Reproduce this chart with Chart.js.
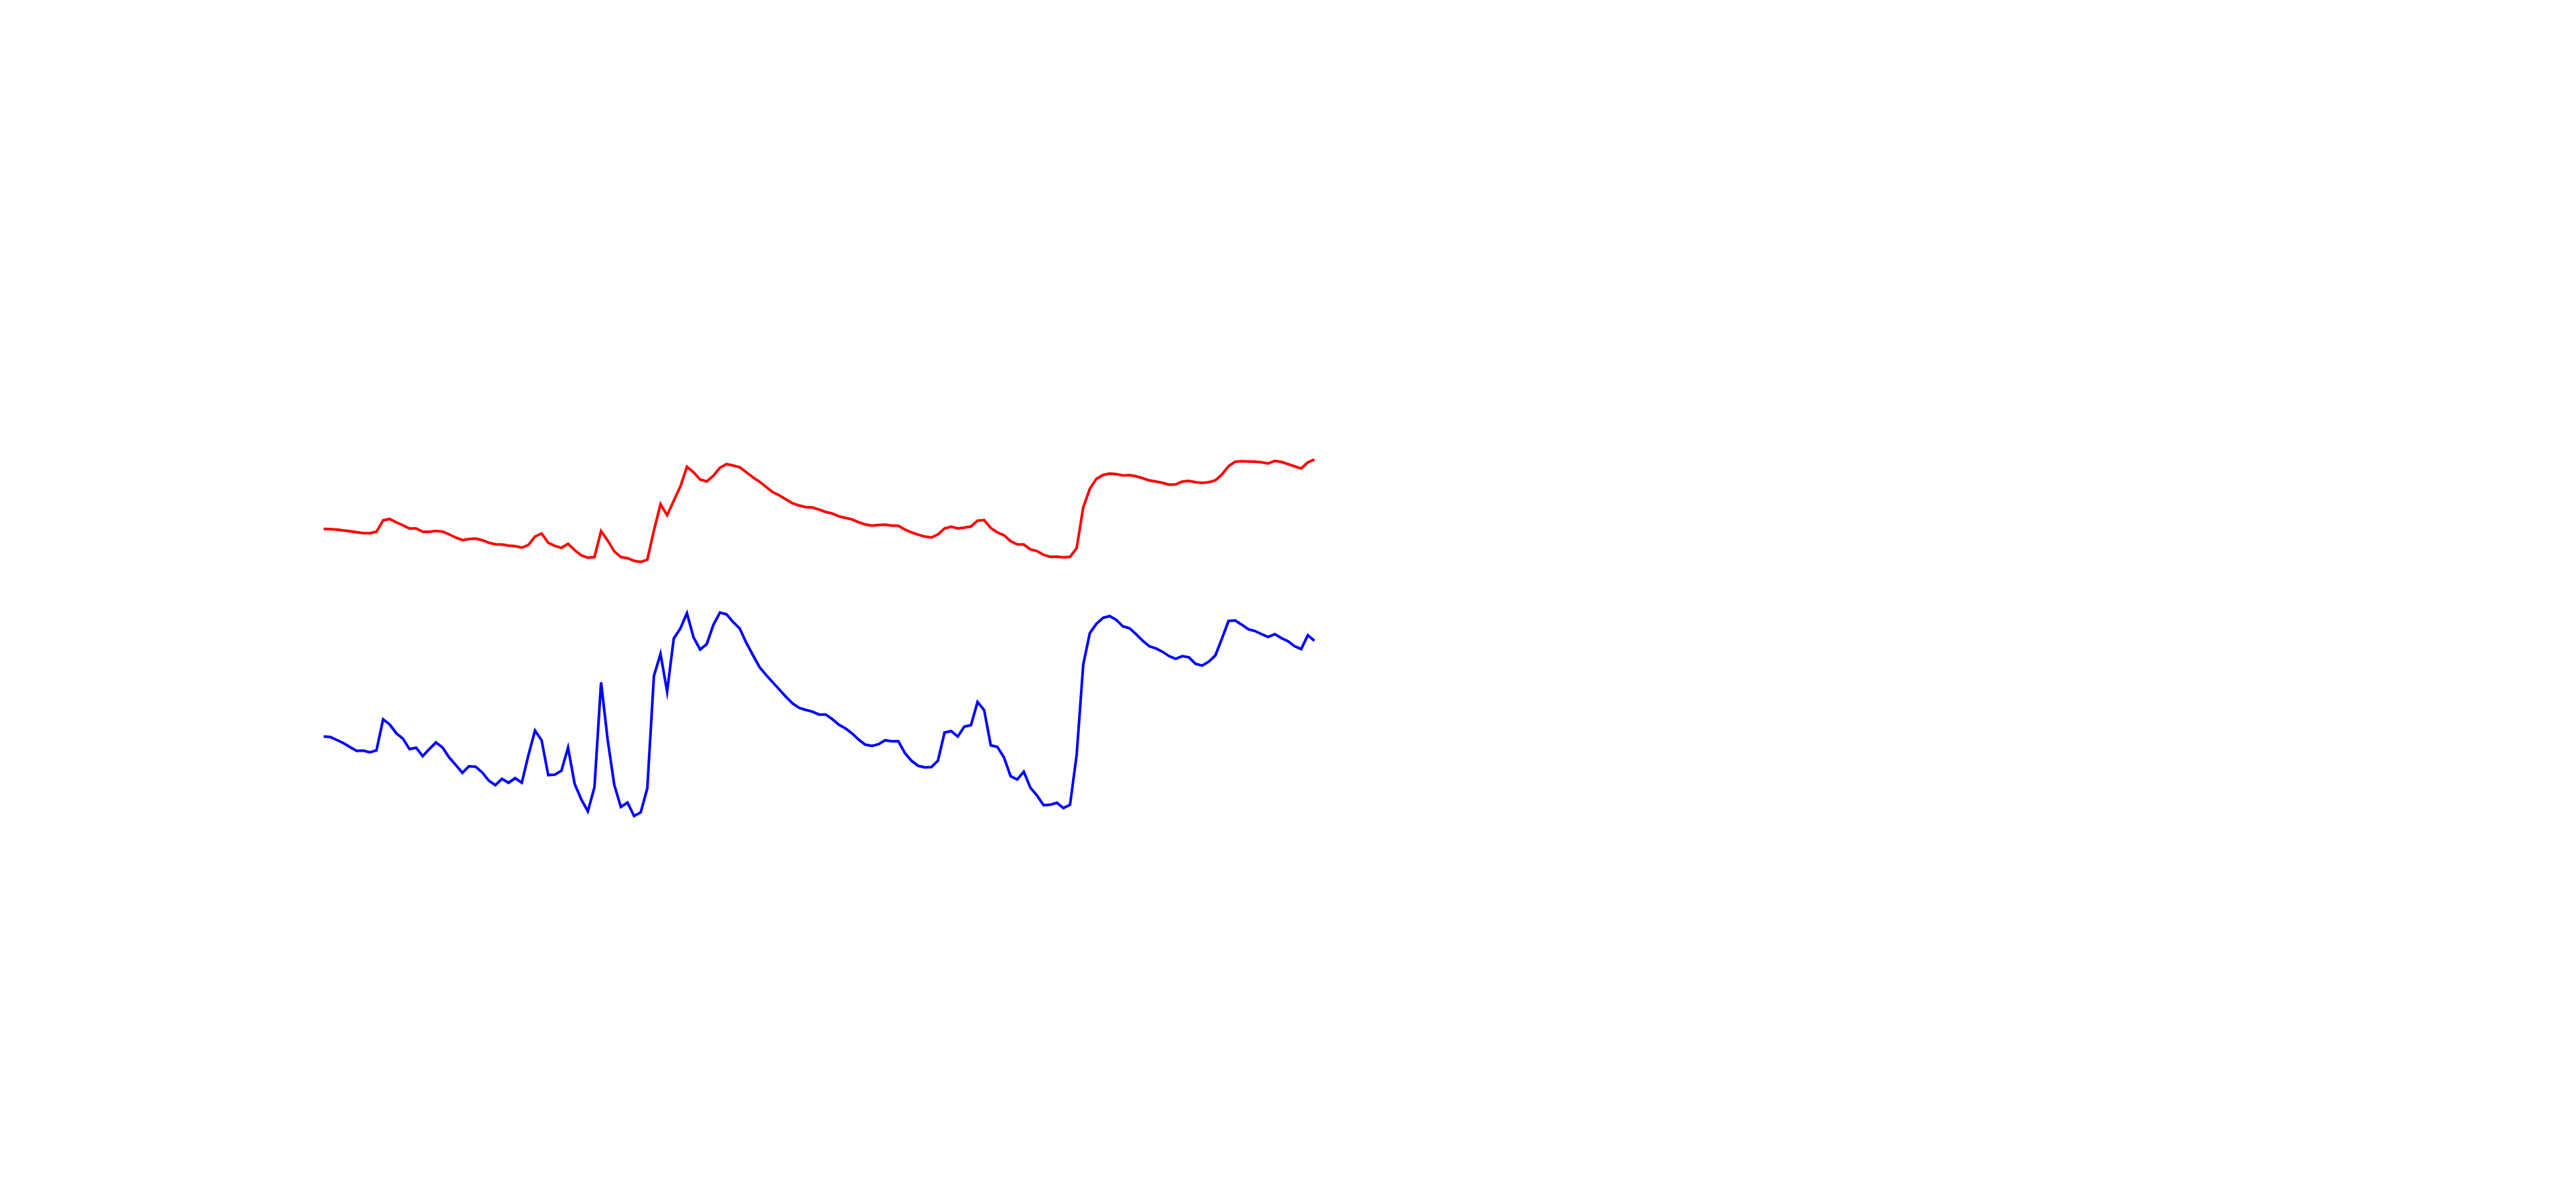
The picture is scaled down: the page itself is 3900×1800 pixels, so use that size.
<!DOCTYPE html>
<html>
<head>
<meta charset="utf-8">
<script src="https://cdn.jsdelivr.net/npm/chart.js@4/dist/chart.umd.min.js"></script>
<style>
  html, body { margin: 0; padding: 0; background: #ffffff; }
  #wrap { width: 3900px; height: 1800px; }
</style>
</head>
<body>
<div id="wrap"><canvas id="c" width="3900" height="1800"></canvas></div>
<script>
const redSeries = [
  49.93, 49.9, 49.83, 49.7, 49.57, 49.43, 49.3, 49.27, 49.5, 51.23,
  51.43, 50.93, 50.47, 50.0, 50.0, 49.5, 49.5, 49.63, 49.53, 49.1,
  48.63, 48.23, 48.4, 48.47, 48.23, 47.83, 47.6, 47.57, 47.4, 47.33,
  47.1, 47.5, 48.77, 49.23, 47.83, 47.37, 47.07, 47.67, 46.73, 45.93,
  45.57, 45.67, 49.6, 48.17, 46.53, 45.67, 45.5, 45.1, 44.93, 45.27,
  49.67, 53.67, 52.0, 54.2, 56.33, 59.33, 58.5, 57.4, 57.13, 57.97,
  59.2, 59.73, 59.53, 59.27, 58.5, 57.73, 57.07, 56.27, 55.5, 55.0,
  54.4, 53.8, 53.47, 53.23, 53.17, 52.87, 52.5, 52.27, 51.83, 51.6,
  51.37, 50.93, 50.6, 50.43, 50.53, 50.57, 50.43, 50.43, 49.83, 49.4,
  49.07, 48.77, 48.63, 49.1, 50.0, 50.27, 50.0, 50.13, 50.3, 51.17,
  51.27, 50.07, 49.4, 48.97, 48.07, 47.6, 47.57, 46.83, 46.57, 46.0,
  45.7, 45.73, 45.63, 45.7, 47.0, 53.17, 56.0, 57.5, 58.1, 58.3,
  58.23, 58.03, 58.07, 57.9, 57.6, 57.27, 57.1, 56.9, 56.63, 56.67,
  57.1, 57.2, 57.0, 56.9, 57.0, 57.27, 58.17, 59.43, 60.1, 60.17,
  60.13, 60.1, 60.03, 59.83, 60.23, 60.07, 59.73, 59.4, 59.07, 60.0,
  60.43
];

const blueSeries = [
  18.5, 18.43, 17.97, 17.5, 16.9, 16.33, 16.37, 16.1, 16.4, 21.1,
  20.33, 19.0, 18.17, 16.6, 16.8, 15.53, 16.6, 17.6, 16.83, 15.33,
  14.2, 13.0, 14.0, 13.93, 13.07, 11.83, 11.13, 12.1, 11.5, 12.2,
  11.5, 15.67, 19.4, 17.93, 12.67, 12.73, 13.33, 16.83, 11.33, 9.0,
  7.17, 10.83, 26.7, 18.0, 11.17, 7.83, 8.5, 6.47, 7.0, 10.67,
  27.67, 31.0, 25.3, 33.33, 34.85, 37.17, 33.5, 31.67, 32.5, 35.4,
  37.27, 37.0, 35.83, 34.83, 32.67, 30.8, 29.0, 27.8, 26.7, 25.6,
  24.5, 23.5, 22.83, 22.53, 22.27, 21.83, 21.83, 21.13, 20.3, 19.73,
  18.97, 18.03, 17.27, 17.07, 17.33, 17.93, 17.77, 17.8, 16.0, 14.83,
  14.07, 13.83, 13.87, 14.83, 19.1, 19.33, 18.5, 20.0, 20.23, 23.73,
  22.5, 17.17, 16.93, 15.33, 12.5, 12.0, 13.17, 10.75, 9.57, 8.1,
  8.17, 8.47, 7.67, 8.17, 15.67, 29.4, 34.17, 35.57, 36.47, 36.73,
  36.17, 35.17, 34.9, 34.0, 33.0, 32.17, 31.83, 31.33, 30.67, 30.27,
  30.67, 30.5, 29.5, 29.23, 29.83, 30.77, 33.33, 36.0, 36.07, 35.43,
  34.73, 34.47, 34.0, 33.57, 34.0, 33.4, 32.93, 32.17, 31.73, 33.83,
  33.0
];

const categories = redSeries.map((_, i) => i);

const yMin = 0;
const yMax = 70;

new Chart(document.getElementById('c'), {
  type: 'line',
  data: {
    labels: categories,
    datasets: [
      {
        label: 'red',
        data: redSeries,
        borderColor: '#ff0000',
        borderWidth: 4,
        pointRadius: 0,
        tension: 0,
        fill: false,
        clip: false
      },
      {
        label: 'blue',
        data: blueSeries,
        borderColor: '#0000ff',
        borderWidth: 4,
        pointRadius: 0,
        tension: 0,
        fill: false,
        clip: false
      }
    ]
  },
  options: {
    responsive: false,
    animation: false,
    events: [],
    layout: { padding: { left: 490, right: 1910, top: 600, bottom: 500 } },
    plugins: {
      legend: { display: false },
      title: { display: false },
      tooltip: { enabled: false }
    },
    scales: {
      x: { display: false, offset: false },
      y: { display: false, min: yMin, max: yMax }
    }
  }
});
</script>
</body>
</html>
